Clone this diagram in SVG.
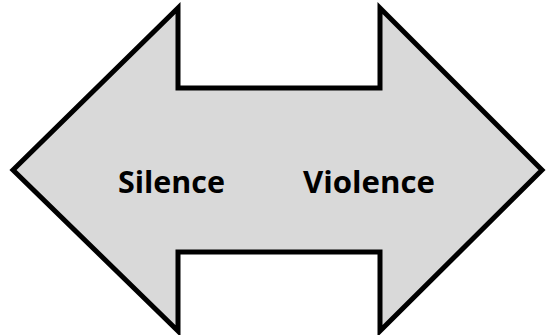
<svg xmlns="http://www.w3.org/2000/svg" width="546" height="335" viewBox="0 0 546 335">
<style>
.shape{fill:#d9d9d9;stroke:#000;stroke-width:5;stroke-linejoin:miter}
.lbl{font-family:"Open Sans","Liberation Sans",sans-serif;font-weight:bold;font-size:30px;fill:#000}
</style>
<g id="arrow">
<path class="shape" d="M13,170 L178,8 L178,88 L380,88 L380,8 L542,170 L380,331 L380,252 L178,252 L178,331 Z"/>
</g>
<g id="silence"><text class="lbl" x="118" y="193" textLength="107" lengthAdjust="spacingAndGlyphs">Silence</text></g>
<g id="violence"><text class="lbl" x="303" y="193" textLength="132" lengthAdjust="spacingAndGlyphs">Violence</text></g>
</svg>
